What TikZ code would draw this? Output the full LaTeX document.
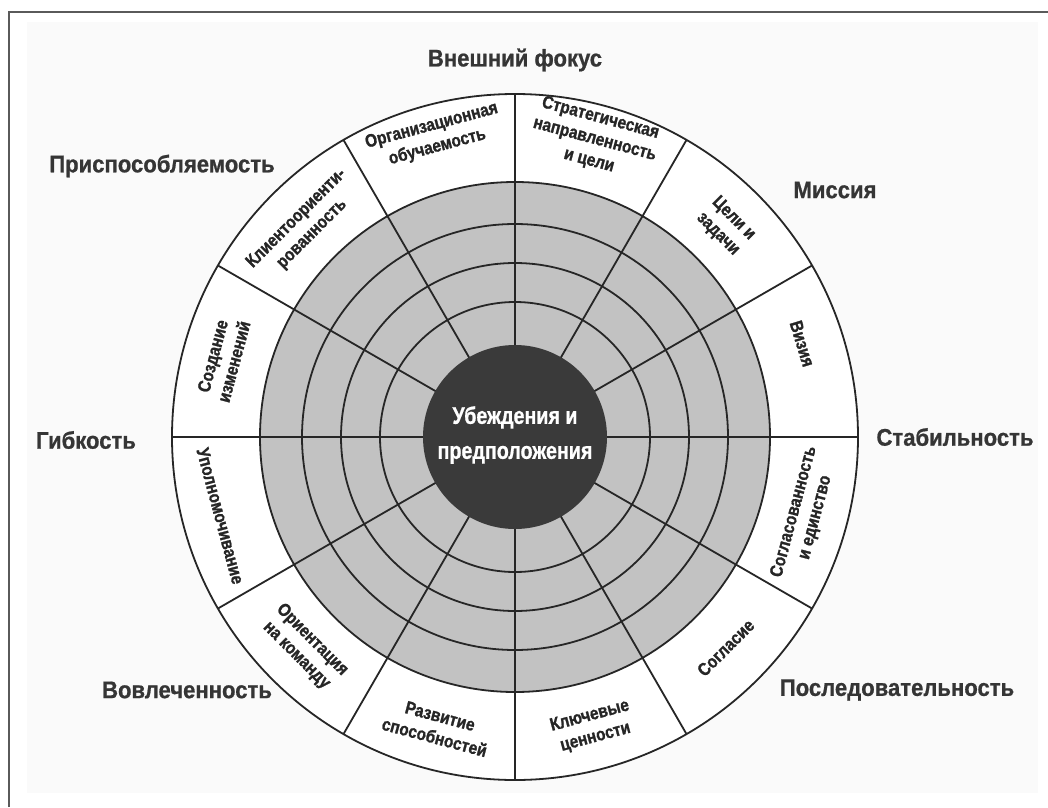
\documentclass[tikz,border=0pt]{standalone}
\usepackage{fontspec}
\newfontfamily\labelfont{Liberation Sans Bold}[FakeStretch=0.86, FakeBold=1.2]
\newfontfamily\corefont{Liberation Sans Bold}[FakeStretch=0.82, FakeBold=0.8]
\newfontfamily\headfont{Liberation Sans Bold}[FakeStretch=0.92, FakeBold=0.8]

\definecolor{ink}{HTML}{262626}
\definecolor{headink}{HTML}{353535}
\definecolor{ringgray}{HTML}{C2C2C2}
\definecolor{core}{HTML}{3A3A3A}
\definecolor{panel}{HTML}{FAFAFA}
\definecolor{frame}{HTML}{5A5A5A}

\tikzset{
  wheelline/.style={draw=ink, line width=1.8pt},
  sector/.style={font=\labelfont\fontsize{18}{22}\selectfont,
    text=ink, align=center, inner sep=0pt},
  pole/.style={font=\headfont\fontsize{24}{28}\selectfont,
    text=headink, inner sep=0pt},
  corelabel/.style={font=\corefont\fontsize{24}{35}\selectfont,
    text=white, align=center, inner sep=0pt},
}

\begin{document}
\begin{tikzpicture}[x=1pt,y=1pt]
  \useasboundingbox (-515,-370) rectangle (533,437);

  % page panel and frame
  \fill[panel] (-488,-356) rectangle (523,415);
  \draw[frame, line width=2.5pt] (-506,-370) -- (-506,425) -- (533,425);

  % wheel: white outer band, grey rings
  \fill[white] (0,0) circle (343);
  \fill[ringgray] (0,0) circle (255);
  \foreach \a in {0,30,...,330}
    \draw[wheelline] (\a:0) -- (\a:343);
  \foreach \r in {255,213,174,135}
    \draw[wheelline] (0,0) circle (\r);
  \draw[wheelline] (0,0) circle (343);
  \fill[core] (0,0) circle (92);

  % core
  \node[corelabel] (core) at (0,2) {Убеждения и\\предположения};

  % sector labels
  \node[sector, rotate=15]  (s105) at (105:311) {Организационная\\обучаемость};
  \node[sector, rotate=-15] (s75)  at (75:308)  {Стратегическая\\направленность\\и цели};
  \node[sector, rotate=-45] (s45)  at (45:298)  {Цели и\\задачи};
  \node[sector, rotate=-73] (s15)  at (18:302)  {Визия};
  \node[sector, rotate=75]  (s345) at (345:300) {Согласованность\\и единство};
  \node[sector, rotate=45]  (s315) at (315:298) {Согласие};
  \node[sector, rotate=15]  (s285) at (285:300) {Ключевые\\ценности};
  \node[sector, rotate=-15] (s255) at (255:300) {Развитие\\способностей};
  \node[sector, rotate=-45] (s225) at (225:298) {Ориентация\\на команду};
  \node[sector, rotate=-75] (s195) at (195:305) {Уполномочивание};
  \node[sector, rotate=75]  (s165) at (165:302) {Создание\\изменений};
  \node[sector, rotate=45]  (s135) at (135:298) {Клиентоориенти-\\рованность};

  % trait labels around the wheel
  \node[pole] (extfocus) at (0,377)     {Внешний фокус};
  \node[pole] (adapt)    at (-353,271)  {Приспособляемость};
  \node[pole] (mission)  at (320,247)   {Миссия};
  \node[pole] (flex)     at (-429,-3)   {Гибкость};
  \node[pole] (stab)     at (440,0)     {Стабильность};
  \node[pole] (involve)  at (-328,-253) {Вовлеченность};
  \node[pole] (consist)  at (382,-253)  {Последовательность};
\end{tikzpicture}
\end{document}
